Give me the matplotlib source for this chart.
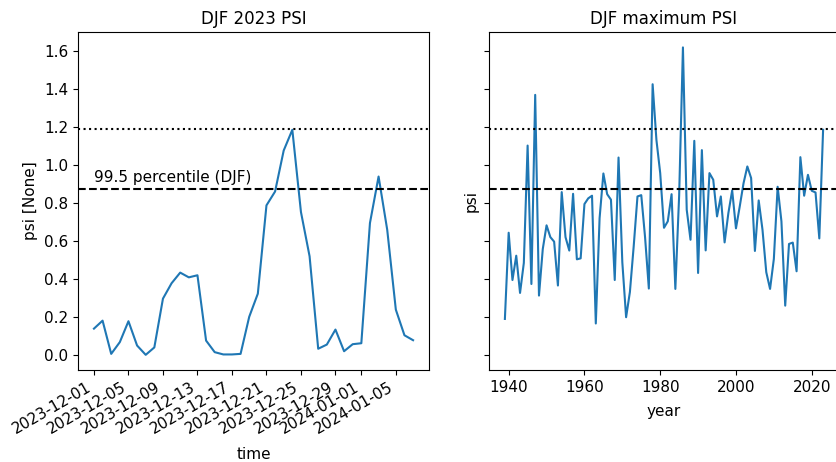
import numpy as np
import pandas as pd
import matplotlib
matplotlib.use("Agg")
import matplotlib.pyplot as plt
import matplotlib.dates as mdates

# daily PSI, DJF 2023 (Dec 1 - Jan 7)
days = pd.date_range("2023-12-01", "2024-01-07", freq="D")
psi_daily = [0.138, 0.180, 0.005, 0.067, 0.177, 0.049, 0.000, 0.039, 0.296, 0.377,
             0.433, 0.408, 0.419, 0.075, 0.014, 0.002, 0.002, 0.005, 0.200, 0.322,
             0.787, 0.860, 1.076, 1.185, 0.752, 0.519, 0.032, 0.054, 0.133, 0.019,
             0.056, 0.061, 0.694, 0.939, 0.659, 0.238, 0.103, 0.077]

# yearly DJF maximum PSI
years = np.arange(1939, 2024)
psi_max = [0.189, 0.643, 0.394, 0.522, 0.326, 0.484, 1.102, 0.373, 1.369, 0.312,
           0.557, 0.682, 0.620, 0.596, 0.365, 0.857, 0.620, 0.549, 0.848, 0.503,
           0.508, 0.794, 0.824, 0.838, 0.165, 0.720, 0.955, 0.846, 0.817, 0.394,
           1.039, 0.487, 0.198, 0.331, 0.571, 0.834, 0.841, 0.620, 0.349, 1.425,
           1.132, 0.957, 0.669, 0.703, 0.846, 0.347, 0.839, 1.619, 0.764, 0.606,
           1.127, 0.431, 1.078, 0.550, 0.957, 0.922, 0.729, 0.834, 0.592, 0.747,
           0.866, 0.666, 0.782, 0.904, 0.992, 0.931, 0.547, 0.813, 0.659, 0.435,
           0.347, 0.505, 0.885, 0.703, 0.259, 0.584, 0.591, 0.440, 1.041, 0.838,
           0.948, 0.864, 0.855, 0.613, 1.185]

p995 = 0.874   # 99.5 percentile (DJF)
p_top = 1.189  # current season max

plt.rcParams["font.size"] = 11
plt.rcParams["axes.titlesize"] = 12

fig = plt.figure(figsize=(8.36, 4.62), dpi=100)
ax1 = fig.add_axes([0.0933, 0.1991, 0.4199, 0.7316])
ax2 = fig.add_axes([0.5849, 0.1991, 0.4187, 0.7316], sharey=ax1)

# left panel: this winter
ax1.plot(days, psi_daily, color="tab:blue")
ax1.axhline(p995, color="k", ls="--")
ax1.axhline(p_top, color="k", ls=":")
ax1.text(days[0], 0.935, "99.5 percentile (DJF)", va="center", ha="left", fontsize=11)
ax1.xaxis.set_major_locator(mdates.DayLocator(bymonthday=[1, 5, 9, 13, 17, 21, 25, 29]))
ax1.xaxis.set_major_formatter(mdates.DateFormatter("%Y-%m-%d"))
plt.setp(ax1.get_xticklabels(), rotation=30, ha="right")
ax1.set_ylim(-0.08, 1.70)
ax1.set_xlabel("time", labelpad=7)
ax1.set_ylabel("psi [None]")
ax1.set_title("DJF 2023 PSI")

# right panel: winter maxima per year
ax2.plot(years, psi_max, color="tab:blue")
ax2.axhline(p995, color="k", ls="--")
ax2.axhline(p_top, color="k", ls=":")
ax2.set_xticks([1940, 1960, 1980, 2000, 2020])
ax2.tick_params(axis="y", labelleft=False)
ax2.set_xlabel("year", labelpad=7)
ax2.set_ylabel("psi")
ax2.set_title("DJF maximum PSI")

fig.savefig("out.png", dpi=100)
